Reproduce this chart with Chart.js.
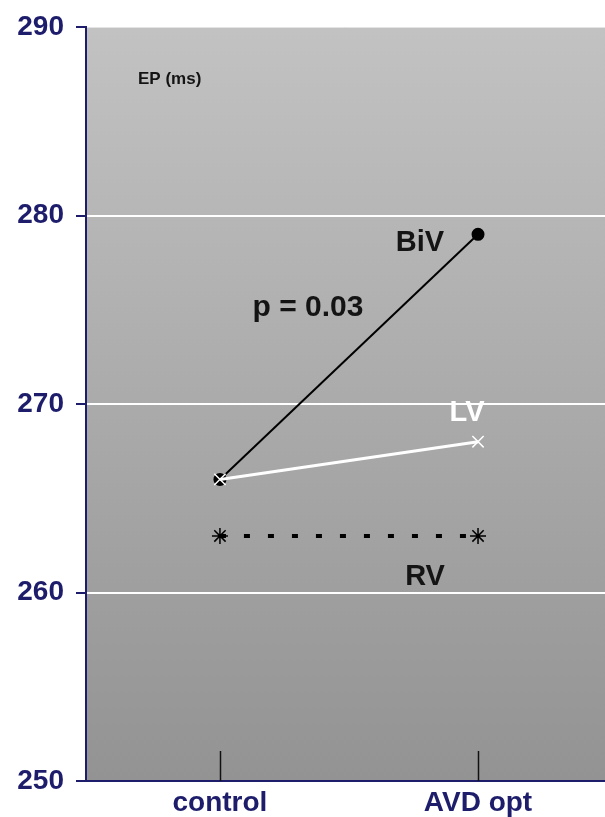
<!DOCTYPE html>
<html>
<head>
<meta charset="utf-8">
<title>EP (ms)</title>
<script src="https://cdn.jsdelivr.net/npm/chart.js@4.4.1/dist/chart.umd.min.js"></script>
<style>
  html, body { margin: 0; padding: 0; background: #ffffff; }
  #wrap { width: 605px; height: 817px; }
</style>
</head>
<body>
<div id="wrap"><canvas id="chart" width="605" height="817"></canvas></div>
<script>
// Categories and measured values (ms)
const categories = ['control', 'AVD opt'];
const bivValues = [266, 279];
const lvValues = [266, 268];
const rvValues = [263, 263];
const yTicks = [250, 260, 270, 280, 290];
const gridValues = [260, 270, 280];

const NAVY = '#1d1d6b';
const FONT = '"Liberation Sans", Arial, sans-serif';

const toPoints = (vals) => vals.map((v, i) => ({ x: i, y: v }));

// Grey gradient panel behind the plot
const panelPlugin = {
  id: 'panel',
  beforeDraw(chart) {
    const { ctx, chartArea: a } = chart;
    const g = ctx.createLinearGradient(0, a.top, 0, a.bottom);
    g.addColorStop(0, '#c2c2c2');
    g.addColorStop(1, '#939393');
    ctx.save();
    ctx.fillStyle = g;
    ctx.fillRect(a.left, a.top, a.right - a.left, a.bottom - a.top);
    ctx.strokeStyle = '#e4e4e4';
    ctx.lineWidth = 1;
    ctx.beginPath();
    ctx.moveTo(a.left, a.top + 0.5);
    ctx.lineTo(a.right, a.top + 0.5);
    ctx.stroke();
    ctx.restore();
  }
};

// Inward category ticks and text annotations
const notesPlugin = {
  id: 'notes',
  afterDatasetsDraw(chart) {
    const { ctx, chartArea: a, scales: { x, y } } = chart;
    ctx.save();
    ctx.strokeStyle = '#111111';
    ctx.lineWidth = 1.5;
    categories.forEach((c, i) => {
      const px = Math.round(x.getPixelForValue(i)) + 0.5;
      ctx.beginPath();
      ctx.moveTo(px, a.bottom);
      ctx.lineTo(px, a.bottom - 30);
      ctx.stroke();
    });

    const x0 = x.getPixelForValue(0);
    const x1 = x.getPixelForValue(1);
    ctx.textBaseline = 'middle';

    ctx.fillStyle = '#141414';
    ctx.font = 'bold 17px ' + FONT;
    ctx.textAlign = 'left';
    ctx.fillText('EP (ms)', a.left + 52, y.getPixelForValue(287.2));

    ctx.textAlign = 'center';
    ctx.font = 'bold 29px ' + FONT;
    ctx.fillText('BiV', x1 - 58, y.getPixelForValue(bivValues[1]) + 9);
    ctx.fillText('RV', x1 - 53, y.getPixelForValue(rvValues[1]) + 41);
    ctx.font = 'bold 30px ' + FONT;
    ctx.fillText('p = 0.03', (x0 + x1) / 2 - 41, y.getPixelForValue(275.1));

    ctx.font = 'bold 29px ' + FONT;
    ctx.fillStyle = '#ffffff';
    ctx.fillText('LV', x1 - 11, y.getPixelForValue(lvValues[1]) - 29);
    ctx.restore();
  }
};

new Chart(document.getElementById('chart'), {
  type: 'line',
  data: {
    datasets: [
      {
        label: 'LV',
        data: toPoints(lvValues),
        borderColor: '#ffffff',
        borderWidth: 3,
        pointStyle: 'crossRot',
        pointRadius: 8,
        pointBorderColor: '#ffffff',
        pointBorderWidth: 1.5,
        pointBackgroundColor: '#ffffff'
      },
      {
        label: 'BiV',
        data: toPoints(bivValues),
        borderColor: '#000000',
        borderWidth: 2,
        pointStyle: 'circle',
        pointRadius: 5.5,
        pointBorderColor: '#000000',
        pointBackgroundColor: '#000000'
      },
      {
        label: 'RV',
        data: toPoints(rvValues),
        borderColor: '#000000',
        borderWidth: 4,
        borderDash: [6, 18],
        borderCapStyle: 'butt',
        pointStyle: 'star',
        pointRadius: 8,
        pointBorderColor: '#000000',
        pointBorderWidth: 1.5,
        pointBackgroundColor: '#000000'
      }
    ]
  },
  options: {
    responsive: false,
    animation: false,
    events: [],
    layout: { autoPadding: false, padding: { top: 27, right: 0, bottom: 0, left: 0 } },
    plugins: { legend: { display: false }, tooltip: { enabled: false } },
    scales: {
      x: {
        type: 'linear',
        min: -0.519,
        max: 1.492,
        afterBuildTicks(scale) { scale.ticks = categories.map((c, i) => ({ value: i })); },
        afterFit(scale) {
          scale.height = 36;
          scale.paddingLeft = 0;
          scale.paddingRight = 0;
        },
        grid: { display: false, drawTicks: false },
        border: { display: true, color: NAVY, width: 2 },
        ticks: {
          padding: 5,
          color: NAVY,
          font: { family: FONT, size: 28, weight: 'bold' },
          callback: (v) => categories[v]
        }
      },
      y: {
        min: 250,
        max: 290,
        afterBuildTicks(scale) { scale.ticks = yTicks.map(v => ({ value: v })); },
        afterFit(scale) {
          scale.width = 86;
          scale.paddingTop = 0;
          scale.paddingBottom = 0;
        },
        grid: {
          drawTicks: true,
          tickLength: 10,
          tickColor: NAVY,
          tickWidth: 2,
          lineWidth: 2,
          color: (ctx) => gridValues.includes(ctx.tick && ctx.tick.value) ? '#ffffff' : 'rgba(0,0,0,0)'
        },
        border: { display: true, color: NAVY, width: 2 },
        ticks: {
          padding: 12,
          color: NAVY,
          font: { family: FONT, size: 28, weight: 'bold' }
        }
      }
    }
  },
  plugins: [panelPlugin, notesPlugin]
});
</script>
</body>
</html>
